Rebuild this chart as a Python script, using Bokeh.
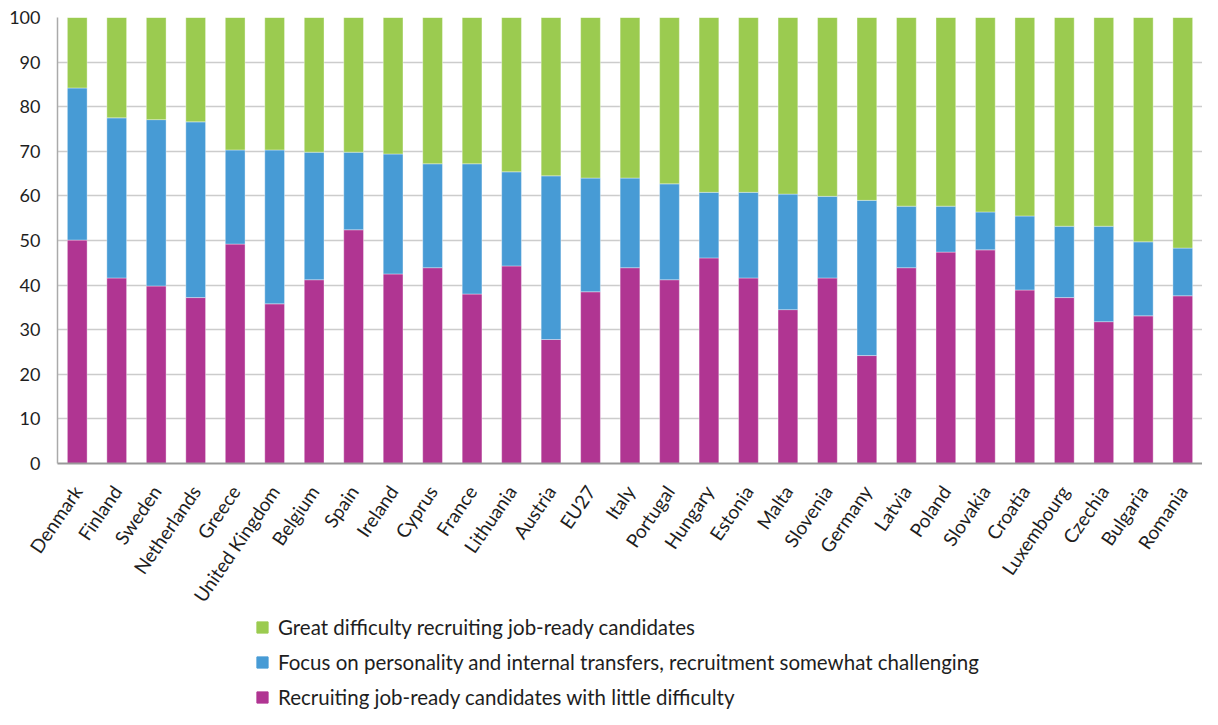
from bokeh.plotting import figure
from bokeh.layouts import column
from bokeh.models import FactorRange, Range1d, Legend, LegendItem, FixedTicker, ColumnDataSource
from bokeh.embed import file_html
from bokeh.resources import INLINE

countries = ["Denmark", "Finland", "Sweden", "Netherlands", "Greece", "United Kingdom",
             "Belgium", "Spain", "Ireland", "Cyprus", "France", "Lithuania", "Austria",
             "EU27", "Italy", "Portugal", "Hungary", "Estonia", "Malta", "Slovenia",
             "Germany", "Latvia", "Poland", "Slovakia", "Croatia", "Luxembourg",
             "Czechia", "Bulgaria", "Romania"]

little = [50.1, 41.6, 39.8, 37.2, 49.2, 35.8, 41.2, 52.4, 42.5, 43.9, 38.0, 44.3, 27.8,
          38.5, 43.9, 41.2, 46.1, 41.6, 34.5, 41.6, 24.2, 43.9, 47.4, 47.9, 38.9, 37.2,
          31.8, 33.1, 37.6]
cumulative_focus = [84.2, 77.5, 77.1, 76.6, 70.3, 70.3, 69.8, 69.8, 69.4, 67.2, 67.2, 65.4,
                    64.5, 64.0, 64.0, 62.7, 60.8, 60.8, 60.4, 59.9, 59.0, 57.7, 57.7, 56.4,
                    55.5, 53.2, 53.2, 49.7, 48.3]

focus = [round(c - l, 1) for c, l in zip(cumulative_focus, little)]
great = [round(100 - c, 1) for c in cumulative_focus]

y_ticks = list(range(0, 101, 10))

series = ["little", "focus", "great"]
legend_order = ["great", "focus", "little"]
labels = {
    "great": "Great difficulty recruiting job-ready candidates",
    "focus": "Focus on personality and internal transfers, recruitment somewhat challenging",
    "little": "Recruiting job-ready candidates with little difficulty",
}
colors = {"little": "#b03592", "focus": "#479bd5", "great": "#9bcb50"}

source = ColumnDataSource(dict(country=countries, little=little, focus=focus, great=great))

FONT = "Lato"
TEXT = "#1e1e1e"

p = figure(x_range=FactorRange(*countries, range_padding=0), y_range=(0, 100),
           frame_width=1145, frame_height=446, output_backend="svg",
           toolbar_location=None, min_border_left=57, min_border_top=17,
           min_border_right=0, min_border_bottom=152)

p.vbar_stack(series, x="country", width=0.5, source=source,
             color=[colors[s] for s in series],
             line_color="white", line_width=0.6, line_alpha=0.6)

p.outline_line_color = None
p.xgrid.grid_line_color = None
p.ygrid.grid_line_color = "#cccccc"
p.ygrid.grid_line_width = 1.5
p.yaxis.ticker = FixedTicker(ticks=y_ticks)

p.yaxis.axis_line_color = "#aaaaaa"
p.yaxis.axis_line_width = 1.5
p.yaxis.major_tick_line_color = None
p.yaxis.minor_tick_line_color = None
p.yaxis.major_tick_out = 0
p.yaxis.major_tick_in = 0
p.yaxis.major_label_standoff = 17
p.yaxis.major_label_text_font = FONT
p.yaxis.major_label_text_font_size = "18px"
p.yaxis.major_label_text_color = TEXT

p.xaxis.axis_line_color = "#999999"
p.xaxis.axis_line_width = 2
p.xaxis.major_tick_line_color = None
p.xaxis.major_tick_out = 0
p.xaxis.major_tick_in = 0
p.xaxis.major_label_orientation = 0.97
p.xaxis.major_label_standoff = 24
p.xaxis.major_label_text_font = FONT
p.xaxis.major_label_text_font_size = "19px"
p.xaxis.major_label_text_color = TEXT

# legend strip below the chart (its frame is aligned with the chart frame by the column)
lg = figure(frame_width=1145, height=94, x_range=Range1d(0, 1), y_range=Range1d(0, 1),
            output_backend="svg", toolbar_location=None,
            x_axis_type=None, y_axis_type=None,
            min_border_left=57, min_border_right=0, min_border_top=0, min_border_bottom=0)
lg.outline_line_color = None
lg.grid.grid_line_color = None

items = []
for s in legend_order:
    # swatch renderer kept outside the visible range; only its legend glyph is seen
    r = lg.vbar(x=[0.5], top=[-1], bottom=[-2], width=0.5, color=colors[s])
    items.append(LegendItem(label=labels[s], renderers=[r]))

legend = Legend(items=items, orientation="vertical", location=(198, 0))
legend.label_text_font = FONT
legend.label_text_font_size = "20.5px"
legend.label_text_color = TEXT
legend.glyph_width = 14
legend.glyph_height = 14
legend.label_height = 21
legend.spacing = 11
legend.padding = 0
legend.margin = 0
legend.label_standoff = 9
legend.border_line_color = None
legend.background_fill_alpha = 0
lg.add_layout(legend, "center")

layout = column(p, lg, spacing=0)
open("out.html", "w").write(file_html(layout, INLINE))
